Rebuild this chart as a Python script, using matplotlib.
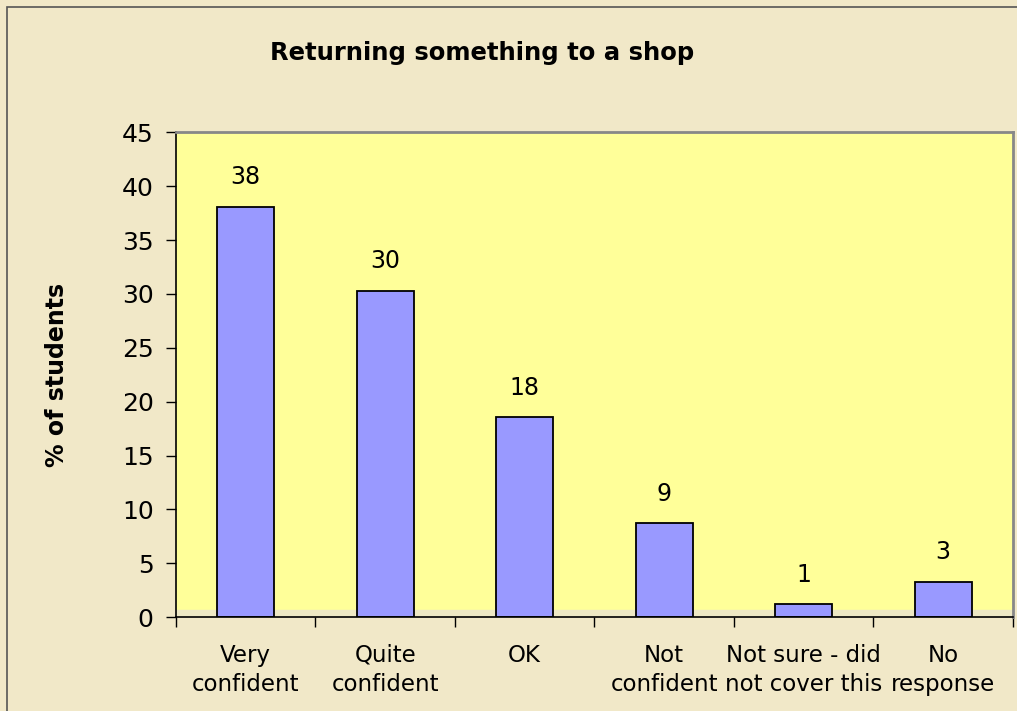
import matplotlib
matplotlib.use("Agg")
import matplotlib.pyplot as plt
import numpy as np
from matplotlib.patches import Rectangle

categories = ["Very\nconfident", "Quite\nconfident", "OK", "Not\nconfident",
              "Not sure - did\nnot cover this", "No\nresponse"]
values = [38.1, 30.3, 18.6, 8.7, 1.2, 3.3]
labels = ["38", "30", "18", "9", "1", "3"]

bg = "#F1E8C8"
wall = "#FFFF99"
bar_col = "#9999FF"

fig = plt.figure(figsize=(10.17, 7.11), dpi=100, facecolor=bg)
fig.patches.append(Rectangle((0.007, -0.1), 1.1, 1.09, transform=fig.transFigure,
                             fill=False, edgecolor="#555555", lw=1.2))
ax = fig.add_axes([0.173, 0.132, 0.823, 0.682])
ax.set_facecolor(wall)

x = np.arange(len(categories))
ax.set_xlim(-0.5, len(categories) - 0.5)
ax.set_ylim(0, 45)

# light floor strip at the bottom of the wall
ax.axhspan(0, 0.7, color="#EEE8C4", zorder=0.5)

ax.bar(x, values, width=0.41, color=bar_col, edgecolor="black", lw=1.3, zorder=2)
for xi, v, lab in zip(x, values, labels):
    ax.annotate(lab, (xi, v), xytext=(0, 21), textcoords="offset points",
                ha="center", va="center", fontsize=17)

ax.set_yticks(np.arange(0, 46, 5))
ax.tick_params(axis="y", labelsize=18, length=7, width=1, direction="out", pad=9)
ax.set_xticks(np.arange(-0.5, len(categories)), minor=False)
ax.set_xticklabels([])
ax.tick_params(axis="x", length=7, width=1, direction="out")
ax.set_xticks(x, minor=True)
ax.set_xticklabels(categories, minor=True, fontsize=16.5, linespacing=1.35)
ax.tick_params(axis="x", which="minor", length=0, pad=19)

for s in ["top", "right"]:
    ax.spines[s].set_color("#888888")
    ax.spines[s].set_linewidth(2)
for s in ["left", "bottom"]:
    ax.spines[s].set_color("black")
    ax.spines[s].set_linewidth(1.2)

ax.set_ylabel("% of students", fontsize=17, fontweight="bold", labelpad=38)
fig.text(0.474, 0.926, "Returning something to a shop", ha="center", va="center",
         fontsize=17.5, fontweight="bold")

fig.savefig("out.png", dpi=100, facecolor=bg)
